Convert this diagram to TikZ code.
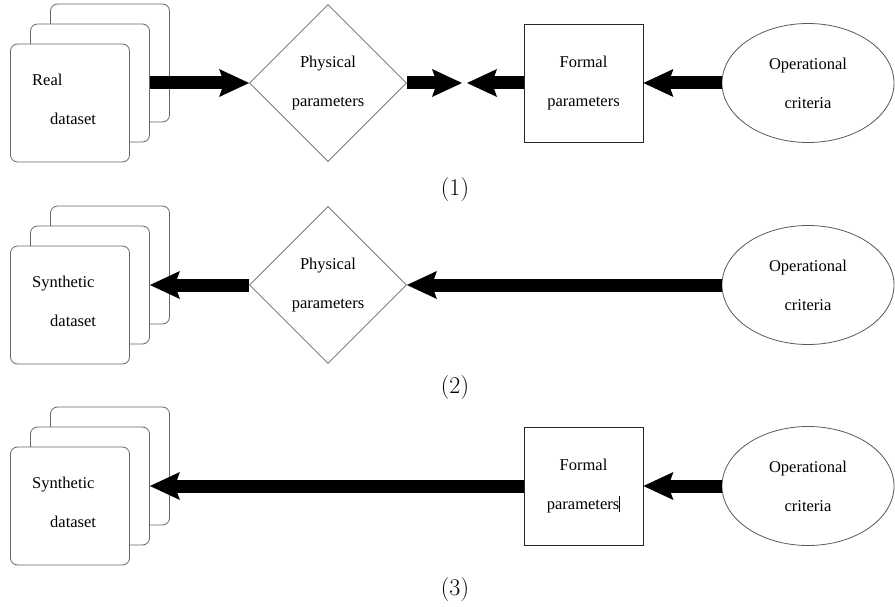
\documentclass[tikz,border=0pt]{standalone}
\usepackage{fontspec}
\usepackage{tikz}
\usetikzlibrary{shapes.geometric,arrows.meta}
\newfontfamily\timesfont{Liberation Serif}

\tikzset{
  card/.style={draw=black!60, fill=white, rounded corners=7pt, line width=0.8pt,
    minimum width=119pt, minimum height=118pt, inner sep=0pt},
  cardtext/.style={anchor=west, align=left, inner sep=0pt,
    font=\timesfont\fontsize{16.5}{39}\selectfont},
  physbox/.style={diamond, aspect=1, draw=black!60, line width=0.8pt,
    minimum width=157pt, minimum height=157pt, inner sep=0pt, align=center,
    font=\timesfont\fontsize{16.5}{39}\selectfont},
  formbox/.style={rectangle, draw=black!85, line width=0.8pt,
    minimum width=119pt, minimum height=118pt, inner sep=0pt, align=center,
    font=\timesfont\fontsize{16.5}{39}\selectfont},
  operbox/.style={ellipse, draw=black!65, line width=0.8pt,
    minimum width=172pt, minimum height=119pt, inner sep=0pt, align=center,
    font=\timesfont\fontsize{16.5}{39}\selectfont},
  fatarrow/.style={line width=13pt,
    -{Stealth[length=30pt, width=28pt, inset=5pt, line width=0pt 0]}},
  caseno/.style={font=\fontsize{24}{28}\selectfont}
}

\begin{document}
\begin{tikzpicture}[x=1pt, y=-1pt]
  \useasboundingbox (0,0) rectangle (895,607);

  % (1) real data
  \node[card] (back1) at (110,63) {};
  \node[card] (mid1) at (90,83) {};
  \node[card] (front1) at (70,103) {};
  \node[cardtext] (real1) at (32,99) {Real\\\hspace*{18pt}dataset};
  \node[physbox] (phys1) at (328,83) {Physical\\parameters};
  \node[formbox] (form1) at (583.5,83) {Formal\\parameters};
  \node[operbox] (oper1) at (808,83) {Operational\\criteria};
  \coordinate (meet1a) at (462,83);
  \coordinate (meet1b) at (467,83);
  \draw[fatarrow] (mid1.east) -- (phys1.west);
  \draw[fatarrow] (phys1.east) -- (meet1a);
  \draw[fatarrow] (form1.west) -- (meet1b);
  \draw[fatarrow] (oper1.west) -- (form1.east);
  \node[caseno] (case1) at (455,190) {(1)};

  % (2) synthetic data from physical parameters
  \node[card] (back2) at (110,265) {};
  \node[card] (mid2) at (90,285) {};
  \node[card] (front2) at (70,305) {};
  \node[cardtext] (synth2) at (32,301) {Synthetic\\\hspace*{18pt}dataset};
  \node[physbox] (phys2) at (328,285) {Physical\\parameters};
  \node[operbox] (oper2) at (808,285) {Operational\\criteria};
  \draw[fatarrow] (phys2.west) -- (mid2.east);
  \draw[fatarrow] (oper2.west) -- (phys2.east);
  \node[caseno] (case2) at (455,388) {(2)};

  % (3) synthetic data from formal parameters
  \node[card] (back3) at (110,466) {};
  \node[card] (mid3) at (90,486) {};
  \node[card] (front3) at (70,506) {};
  \node[cardtext] (synth3) at (32,502) {Synthetic\\\hspace*{18pt}dataset};
  \node[formbox] (form3) at (583.5,486) {Formal\\parameters\rule[-3pt]{0.8pt}{16pt}};
  \node[operbox] (oper3) at (808,486) {Operational\\criteria};
  \draw[fatarrow] (form3.west) -- (mid3.east);
  \draw[fatarrow] (oper3.west) -- (form3.east);
  \node[caseno] (case3) at (455,590) {(3)};
\end{tikzpicture}
\end{document}
